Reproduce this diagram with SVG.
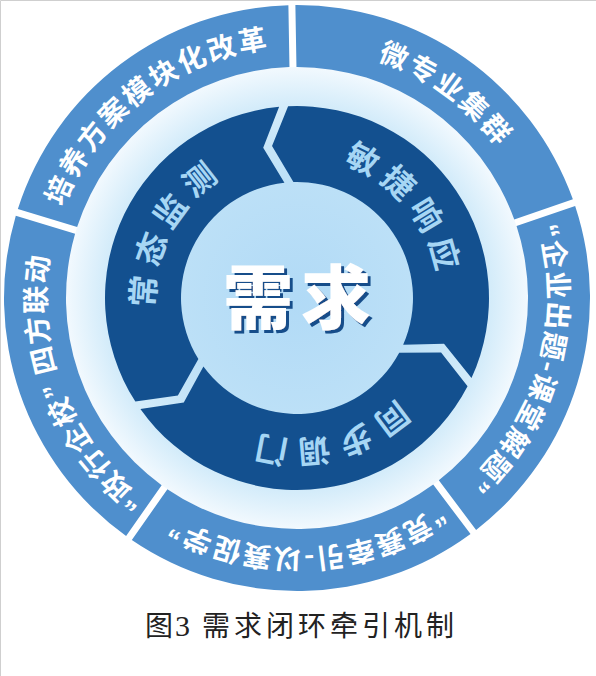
<svg xmlns="http://www.w3.org/2000/svg" xmlns:xlink="http://www.w3.org/1999/xlink" width="596" height="676" viewBox="0 0 596 676">
<defs>
<radialGradient id="bg" cx="297" cy="298" r="231" gradientUnits="userSpaceOnUse">
<stop offset="0" stop-color="#b1daf6"/>
<stop offset="0.5" stop-color="#bce0f7"/>
<stop offset="0.84" stop-color="#d4ecfa"/>
<stop offset="1" stop-color="#f2f9fe"/>
</radialGradient>
<filter id="shadow" x="-10%" y="-10%" width="130%" height="130%">
<feFlood flood-color="#164d8a"/>
<feComposite in2="SourceAlpha" operator="in"/>
<feOffset dx="3" dy="3" result="sh"/>
<feMerge><feMergeNode in="sh"/><feMergeNode in="SourceGraphic"/></feMerge>
</filter>
<path id="seg" d="M 127.62 58.92 A 293 293 0 0 1 466.38 58.92 L 429.93 109.08 A 231 231 0 0 0 164.07 109.08 Z"/>
<path id="arrow" d="M 488.95 302.50 A 192 192 0 0 1 204.92 466.48 L 240.99 441.46 L 242.94 400.63 A 116 116 0 0 0 412.91 302.50 L 450.34 283.71 Z"/>
<path id="outerArc" d="M 49.81 254.41 A 251 251 0 0 1 544.19 254.41"/>
<path id="innerArc" d="M 157.16 273.34 A 142 142 0 0 1 436.84 273.34"/>
</defs>
<style>
.seg{fill:#4f8fcd}
.arr{fill:#13508f}
.ot{font-family:"Noto Sans CJK SC",sans-serif;font-size:28px;font-weight:700;fill:#ffffff;letter-spacing:2.5px}
.tight{letter-spacing:1.5px}
.q{font-family:"Liberation Sans",sans-serif;font-weight:700}
.it{font-family:"Noto Sans CJK SC",sans-serif;font-size:32px;font-weight:700;fill:#a6d6f4;letter-spacing:7.5px}
.ct{font-family:"Noto Sans CJK SC",sans-serif;font-size:70px;font-weight:900;letter-spacing:8px;fill:#ffffff}
.cap{font-family:"Noto Sans CJK SC",sans-serif;font-size:28px;fill:#222222}
</style>
<rect x="0" y="0" width="596" height="676" fill="#ffffff"/>
<path d="M0.5 676 V0.5 H596" fill="none" stroke="#cfcfcf" stroke-width="1"/>
<circle cx="297" cy="298" r="231" fill="url(#bg)"/>

<g id="seg-top-right">
<use href="#seg" xlink:href="#seg" class="seg" transform="rotate(35 297 298)"/>
<text class="ot" text-anchor="middle" transform="rotate(36 297 298)"><textPath href="#outerArc" xlink:href="#outerArc" startOffset="50%">微专业集群</textPath></text>
</g>
<g id="seg-right">
<use href="#seg" xlink:href="#seg" class="seg" transform="rotate(107 297 298)"/>
<text class="ot tight" text-anchor="middle" transform="rotate(105.5 297 298)"><textPath href="#outerArc" xlink:href="#outerArc" startOffset="50%"><tspan class="q">“</tspan>企业出题-课堂解题<tspan class="q">”</tspan></textPath></text>
</g>
<g id="seg-bottom">
<use href="#seg" xlink:href="#seg" class="seg" transform="rotate(179 297 298)"/>
<text class="ot tight" text-anchor="middle" transform="rotate(177.5 297 298)"><textPath href="#outerArc" xlink:href="#outerArc" startOffset="50%"><tspan class="q">“</tspan>竞赛牵引-以赛促学<tspan class="q">”</tspan></textPath></text>
</g>
<g id="seg-left">
<use href="#seg" xlink:href="#seg" class="seg" transform="rotate(251 297 298)"/>
<text class="ot tight" text-anchor="middle" transform="rotate(248.5 297 298)"><textPath href="#outerArc" xlink:href="#outerArc" startOffset="50%"><tspan class="q">“</tspan>政行企校<tspan class="q">”</tspan> 四方联动</textPath></text>
</g>
<g id="seg-top-left">
<use href="#seg" xlink:href="#seg" class="seg" transform="rotate(323 297 298)"/>
<text class="ot" text-anchor="middle" transform="rotate(322.5 297 298)"><textPath href="#outerArc" xlink:href="#outerArc" startOffset="50%">培养方案模块化改革</textPath></text>
</g>

<g id="arrow-right">
<use href="#arrow" xlink:href="#arrow" class="arr" transform="rotate(266 297 298)"/>
<text class="it" text-anchor="middle" transform="rotate(50.7 297 298)"><textPath href="#innerArc" xlink:href="#innerArc" startOffset="50%">敏捷响应</textPath></text>
</g>
<g id="arrow-bottom">
<use href="#arrow" xlink:href="#arrow" class="arr" transform="rotate(26 297 298)"/>
<text class="it" text-anchor="middle" transform="rotate(167 297 298)"><textPath href="#innerArc" xlink:href="#innerArc" startOffset="50%">同步调门</textPath></text>
</g>
<g id="arrow-left">
<use href="#arrow" xlink:href="#arrow" class="arr" transform="rotate(146 297 298)"/>
<text class="it" text-anchor="middle" transform="rotate(298 297 298)"><textPath href="#innerArc" xlink:href="#innerArc" startOffset="50%">常态监测</textPath></text>
</g>

<g id="center">
<text class="ct" x="301" y="324" text-anchor="middle" filter="url(#shadow)">需求</text>
</g>

<g id="caption">
<text class="cap" y="636"><tspan x="145">图</tspan><tspan x="175" font-family="Liberation Serif" font-size="30">3</tspan><tspan x="202 234 266 298 330 362 394 426">需求闭环牵引机制</tspan></text>
</g>
</svg>
